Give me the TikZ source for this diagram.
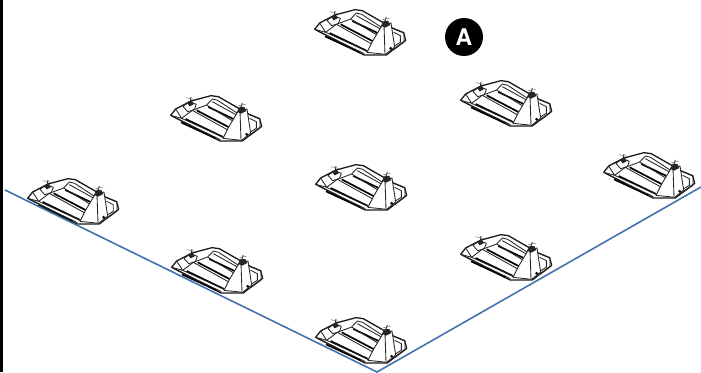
\documentclass[tikz,border=0pt]{standalone}
\usepackage{fontspec}
\setsansfont{TeX Gyre Heros}
\definecolor{ceblue}{HTML}{4472B0}
\tikzset{
  outline/.style={draw=black!90,line width=1.3pt,line join=round,fill=white},
  edge/.style={draw=black!85,line width=0.85pt,line join=round},
  thin edge/.style={draw=black!55,line width=0.5pt},
  slot/.style={draw=black,line width=1.7pt},
  blob/.style={fill=black!85},
  ground/.style={draw=ceblue,line width=1.6pt},
  badge/.style={circle,fill=black,minimum size=38pt,inner sep=0pt,text=white,font=\sffamily\bfseries\fontsize{23}{23}\selectfont}
}
\newcommand{\machine}[2]{%
\begin{scope}[shift={(#1,#2)},x=0.3333pt,y=-0.3333pt]
  % body outline
  \path[outline] (47,103)--(62,84)--(108,60)--(168,44)--(190,47)--(258,86)--(280,99)--(314,113)--(320,136)--(285,162)--(262,180)--(195,180)--(160,162)--(100,130)--cycle;
  % upper deck frame
  \draw[edge] (62,84)--(80,112)--(47,103);
  \draw[edge] (80,112)--(112,88)--(155,72)--(172,54)--(188,58)--(246,96);
  % rails
  \draw[slot] (78,124)--(182,172);
  \draw[edge] (66,113)--(196,176);
  \draw[slot] (92,114)--(204,168);
  \draw[edge] (80,112)--(212,172);
  \draw[slot] (125,88)--(228,142);
  \draw[edge] (112,88)--(224,150);
  \draw[slot] (160,78)--(244,118);
  \draw[edge] (155,72)--(240,124);
  \draw[edge] (172,62)--(248,104);
  % tower
  \path[fill=white] (220,140)--(250,90)--(276,84)--(287,156)--(260,178)--(204,172)--cycle;
  \draw[edge] (204,172)--(220,140)--(250,90)--(276,84)--(287,156)--(260,178)--cycle;
  \draw[edge] (255,90)--(258,177);
  % right foot
  \draw[edge] (279,99)--(315,114)--(315,141)--(283,165);
  \draw[edge] (284,112)--(304,122)--(304,142)--(286,153);
  % knobs and details
  \path[blob] (246,92)--(254,78)--(268,78)--(274,90)--(258,98)--cycle;
  \draw[edge] (258,78)--(262,66);
  \draw[thin edge] (250,74)--(272,70);
  \draw[edge] (84,76)--(104,62)--(124,70)--(118,86)--(98,92)--cycle;
  \path[blob] (96,66)--(110,58)--(116,70)--(104,76)--cycle;
  \draw[edge] (106,60)--(108,48);
  \draw[thin edge] (92,50)--(120,56);
  \fill[black] (208,132) circle (3);
  \fill[black] (275,160) circle (4.5);
\end{scope}}
\begin{document}
\begin{tikzpicture}[x=1pt,y=-1pt]
  \useasboundingbox (0,0) rectangle (701,372);
  \fill[white] (0,0) rectangle (701,372);
  \machine{299}{-5}
  \machine{445}{66}
  \machine{155}{81}
  \machine{300}{150}
  \machine{12}{164}
  \machine{588}{138}
  \machine{156}{233}
  \machine{445}{220}
  \machine{300}{303}
  \node[badge] (badge) at (464,37) {A};
  \coordinate (groundL) at (5,190);
  \coordinate (apex) at (377,372);
  \coordinate (groundR) at (701,187);
  \draw[ground] (groundL)--(apex)--(groundR);
  \coordinate (edgeT) at (1.5,0);
  \coordinate (edgeB) at (1.5,372);
  \draw[line width=2.2pt,black] (edgeT)--(edgeB);
\end{tikzpicture}
\end{document}
